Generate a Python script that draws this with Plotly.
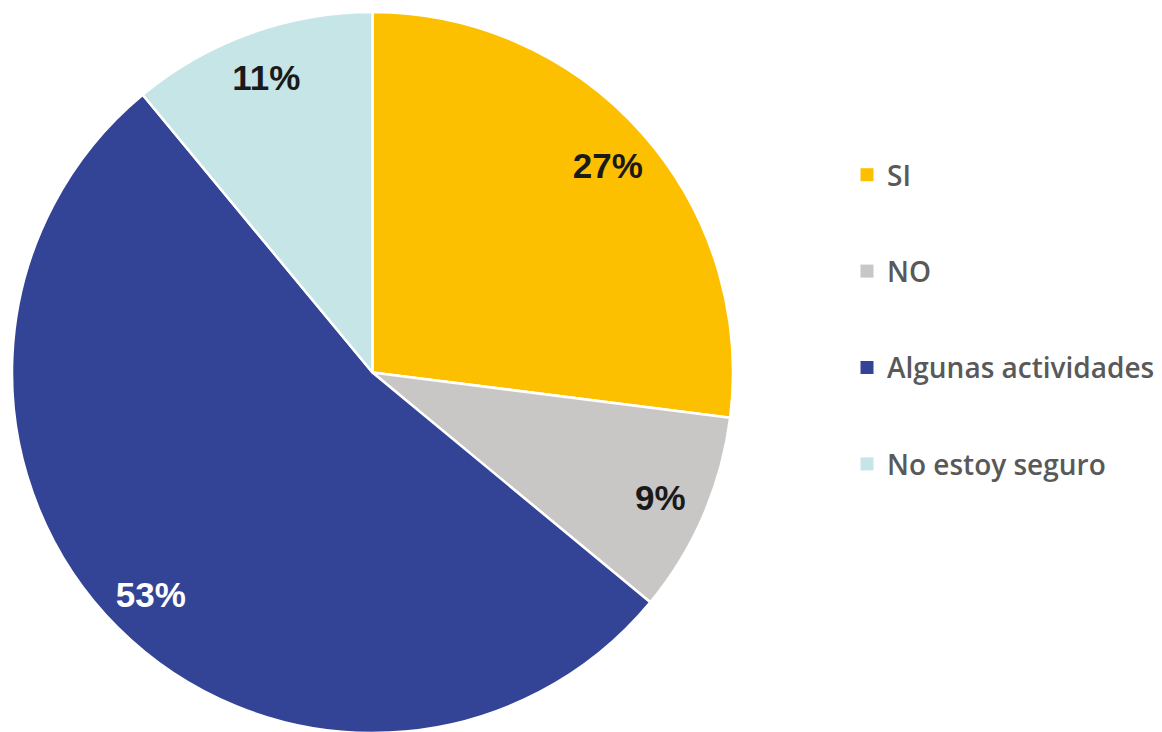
import plotly.graph_objects as go

categories = ["SI", "NO", "Algunas actividades", "No estoy seguro"]
values = [27, 9, 53, 11]
colors = ["#FDC000", "#C9C6C6", "#334496", "#C6E5E7"]
text_colors = ["#1a1a1a", "#1a1a1a", "#ffffff", "#1a1a1a"]

# page body has an 8px offset; compensate in paper coordinates
OFF = 8
W, H = 1162, 732
pie_domain = dict(x=[(12 - OFF) / W, (733 - OFF) / W], y=[(OFF - 1) / H, (H - 12 + OFF) / H])

fig = go.Figure()

# filled slices
fig.add_trace(go.Pie(
    labels=categories,
    values=values,
    sort=False,
    direction="clockwise",
    rotation=0,
    marker=dict(colors=colors, line=dict(color="#ffffff", width=2.5)),
    textinfo="none",
    showlegend=False,
    domain=pie_domain,
    hoverinfo="label+percent",
))

# transparent ring carrying the percentage labels near the rim
fig.add_trace(go.Pie(
    labels=categories,
    values=values,
    sort=False,
    direction="clockwise",
    rotation=0,
    hole=0.74,
    marker=dict(colors=["rgba(0,0,0,0)"] * len(values), line=dict(width=0)),
    texttemplate="%{percent:.0%}",
    textposition="inside",
    insidetextorientation="horizontal",
    textfont=dict(family="Liberation Sans, Arial", size=35, color=text_colors, weight="bold"),
    showlegend=False,
    domain=pie_domain,
    hoverinfo="skip",
))

for name, col in zip(categories, colors):
    fig.add_trace(go.Scatter(
        x=[None], y=[None], mode="markers", name=name,
        legendgroup=name,
        marker=dict(symbol="square", size=13, color=col),
        showlegend=True,
    ))

fig.update_layout(
    width=W, height=H,
    margin=dict(l=0, r=0, t=0, b=0),
    paper_bgcolor="#ffffff",
    plot_bgcolor="#ffffff",
    xaxis=dict(visible=False),
    yaxis=dict(visible=False),
    legend=dict(
        x=(847 - OFF) / W, xanchor="left",
        y=1 - (155 - 13) / H, yanchor="top",
        tracegroupgap=57,
        font=dict(family="Open Sans", size=28, color="#595959", weight=600),
        bgcolor="rgba(0,0,0,0)",
        itemclick=False, itemdoubleclick=False,
    ),
)

fig.write_html("out.html")
